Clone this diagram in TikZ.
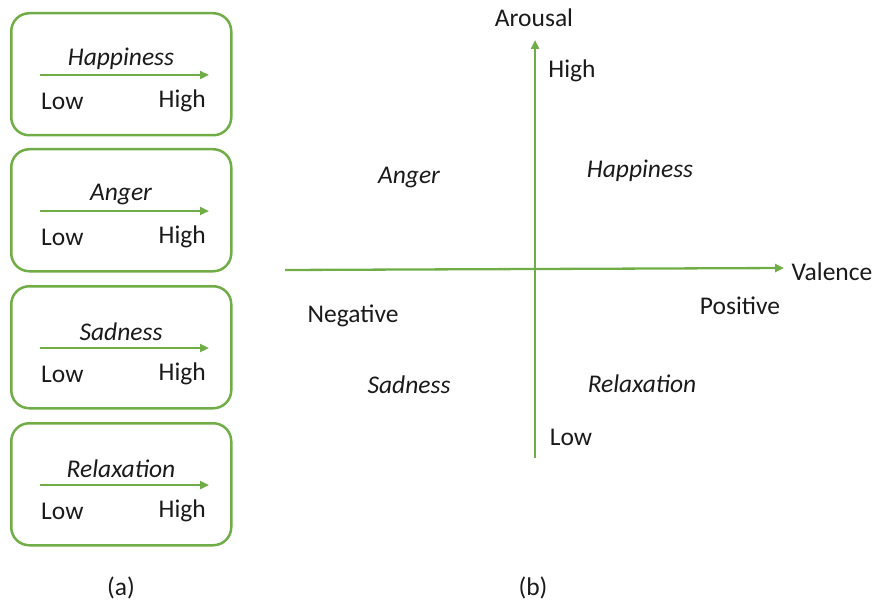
\documentclass[tikz,border=0pt]{standalone}
\usepackage{fontspec}
\setmainfont{Carlito}
\usetikzlibrary{arrows.meta}
\definecolor{grn}{HTML}{70AD47}
\definecolor{txt}{HTML}{1A1A1A}
\tikzset{
  panel/.style={draw=grn, line width=2.5pt, rounded corners=18pt},
  arr/.style={draw=grn, line width=2.3pt, -{Triangle[length=9pt,width=8pt]}},
  lbl/.style={text=txt, font=\fontsize{25.5}{30}\selectfont, inner sep=0pt},
  ilbl/.style={lbl, font=\fontsize{25.5}{30}\selectfont\itshape},
}
\begin{document}
\begin{tikzpicture}[x=1pt,y=-1pt]
\useasboundingbox (0,0) rectangle (874,604);
% panels (a)
\foreach \t/\name/\lab in {12/p1/Happiness,148/p2/Anger,285/p3/Sadness,422/p4/Relaxation}{
  \node[panel, minimum width=220pt, minimum height=122pt, anchor=north west] (\name) at (10,\t) {};
  \coordinate (\name s) at (40,\t+63);
  \coordinate (\name e) at (209,\t+63);
  \draw[arr] (\name s) -- (\name e);
  \node[ilbl] (\name t) at (121,\t+47) {\lab};
  \node[lbl, anchor=west] (\name l) at (41,\t+89) {Low};
  \node[lbl, anchor=east] (\name h) at (206,\t+89) {High};
}
\node[lbl] (capa) at (121,588) {(a)};
\node[lbl] (capb) at (533,588) {(b)};
% axes (b)
\coordinate (vb) at (535,458);
\coordinate (vt) at (535,40);
\coordinate (hl) at (285,270);
\coordinate (hr) at (784,268);
\draw[arr] (vb) -- (vt);
\draw[arr] (hl) -- (hr);
\node[lbl] (arousal) at (534,18) {Arousal};
\node[lbl] (high) at (572,71) {High};
\node[lbl] (low) at (571,437) {Low};
\node[lbl] (valence) at (832,272) {Valence};
\node[lbl] (pos) at (740,306) {Positive};
\node[lbl] (neg) at (353,316) {Negative};
\node[ilbl] (anger) at (409,178) {Anger};
\node[ilbl] (happy) at (640,171) {Happiness};
\node[ilbl] (sad) at (409,385) {Sadness};
\node[ilbl] (relax) at (642,384) {Relaxation};
\end{tikzpicture}
\end{document}
